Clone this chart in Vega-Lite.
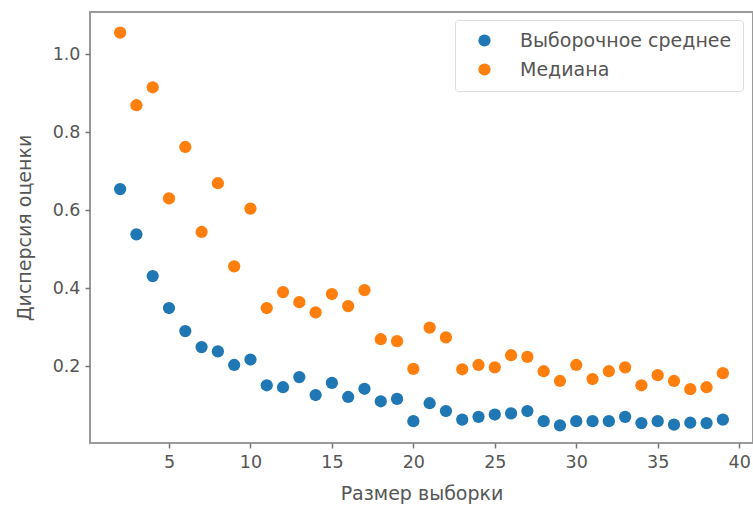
{
  "$schema": "https://vega.github.io/schema/vega-lite/v6.json",
  "autosize": {"type": "none"},
  "padding": {"left": 90, "top": 12, "right": 0, "bottom": 63},
  "width": 663,
  "height": 431,
  "background": "white",
  "config": {
    "font": "DejaVu Sans",
    "view": {"stroke": "#9a9a9a", "strokeWidth": 2},
    "axis": {
      "domain": false,
      "grid": false,
      "tickColor": "#777",
      "tickWidth": 1.5,
      "tickSize": 5,
      "labelFont": "DejaVu Sans",
      "labelFontSize": 17.5,
      "labelColor": "#555",
      "labelPadding": 5,
      "titleFont": "DejaVu Sans",
      "titleFontSize": 19,
      "titleFontWeight": "normal",
      "titleColor": "#555"
    }
  },
  "data": {
    "values": [
      {"n": 2, "s": "Выборочное среднее", "v": 0.654},
      {"n": 3, "s": "Выборочное среднее", "v": 0.538},
      {"n": 4, "s": "Выборочное среднее", "v": 0.431},
      {"n": 5, "s": "Выборочное среднее", "v": 0.349},
      {"n": 6, "s": "Выборочное среднее", "v": 0.290},
      {"n": 7, "s": "Выборочное среднее", "v": 0.249},
      {"n": 8, "s": "Выборочное среднее", "v": 0.238},
      {"n": 9, "s": "Выборочное среднее", "v": 0.203},
      {"n": 10, "s": "Выборочное среднее", "v": 0.217},
      {"n": 11, "s": "Выборочное среднее", "v": 0.151},
      {"n": 12, "s": "Выборочное среднее", "v": 0.146},
      {"n": 13, "s": "Выборочное среднее", "v": 0.172},
      {"n": 14, "s": "Выборочное среднее", "v": 0.126},
      {"n": 15, "s": "Выборочное среднее", "v": 0.157},
      {"n": 16, "s": "Выборочное среднее", "v": 0.121},
      {"n": 17, "s": "Выборочное среднее", "v": 0.142},
      {"n": 18, "s": "Выборочное среднее", "v": 0.110},
      {"n": 19, "s": "Выборочное среднее", "v": 0.116},
      {"n": 20, "s": "Выборочное среднее", "v": 0.059},
      {"n": 21, "s": "Выборочное среднее", "v": 0.105},
      {"n": 22, "s": "Выборочное среднее", "v": 0.085},
      {"n": 23, "s": "Выборочное среднее", "v": 0.063},
      {"n": 24, "s": "Выборочное среднее", "v": 0.070},
      {"n": 25, "s": "Выборочное среднее", "v": 0.076},
      {"n": 26, "s": "Выборочное среднее", "v": 0.079},
      {"n": 27, "s": "Выборочное среднее", "v": 0.085},
      {"n": 28, "s": "Выборочное среднее", "v": 0.059},
      {"n": 29, "s": "Выборочное среднее", "v": 0.048},
      {"n": 30, "s": "Выборочное среднее", "v": 0.059},
      {"n": 31, "s": "Выборочное среднее", "v": 0.059},
      {"n": 32, "s": "Выборочное среднее", "v": 0.059},
      {"n": 33, "s": "Выборочное среднее", "v": 0.070},
      {"n": 34, "s": "Выборочное среднее", "v": 0.054},
      {"n": 35, "s": "Выборочное среднее", "v": 0.059},
      {"n": 36, "s": "Выборочное среднее", "v": 0.050},
      {"n": 37, "s": "Выборочное среднее", "v": 0.055},
      {"n": 38, "s": "Выборочное среднее", "v": 0.054},
      {"n": 39, "s": "Выборочное среднее", "v": 0.063},
      {"n": 2, "s": "Медиана", "v": 1.055},
      {"n": 3, "s": "Медиана", "v": 0.869},
      {"n": 4, "s": "Медиана", "v": 0.915},
      {"n": 5, "s": "Медиана", "v": 0.630},
      {"n": 6, "s": "Медиана", "v": 0.762},
      {"n": 7, "s": "Медиана", "v": 0.544},
      {"n": 8, "s": "Медиана", "v": 0.669},
      {"n": 9, "s": "Медиана", "v": 0.456},
      {"n": 10, "s": "Медиана", "v": 0.604},
      {"n": 11, "s": "Медиана", "v": 0.349},
      {"n": 12, "s": "Медиана", "v": 0.390},
      {"n": 13, "s": "Медиана", "v": 0.364},
      {"n": 14, "s": "Медиана", "v": 0.338},
      {"n": 15, "s": "Медиана", "v": 0.385},
      {"n": 16, "s": "Медиана", "v": 0.354},
      {"n": 17, "s": "Медиана", "v": 0.395},
      {"n": 18, "s": "Медиана", "v": 0.269},
      {"n": 19, "s": "Медиана", "v": 0.264},
      {"n": 20, "s": "Медиана", "v": 0.193},
      {"n": 21, "s": "Медиана", "v": 0.299},
      {"n": 22, "s": "Медиана", "v": 0.274},
      {"n": 23, "s": "Медиана", "v": 0.192},
      {"n": 24, "s": "Медиана", "v": 0.203},
      {"n": 25, "s": "Медиана", "v": 0.197},
      {"n": 26, "s": "Медиана", "v": 0.228},
      {"n": 27, "s": "Медиана", "v": 0.224},
      {"n": 28, "s": "Медиана", "v": 0.187},
      {"n": 29, "s": "Медиана", "v": 0.162},
      {"n": 30, "s": "Медиана", "v": 0.203},
      {"n": 31, "s": "Медиана", "v": 0.167},
      {"n": 32, "s": "Медиана", "v": 0.187},
      {"n": 33, "s": "Медиана", "v": 0.197},
      {"n": 34, "s": "Медиана", "v": 0.151},
      {"n": 35, "s": "Медиана", "v": 0.177},
      {"n": 36, "s": "Медиана", "v": 0.162},
      {"n": 37, "s": "Медиана", "v": 0.141},
      {"n": 38, "s": "Медиана", "v": 0.146},
      {"n": 39, "s": "Медиана", "v": 0.182}
    ]
  },
  "mark": {"type": "point", "filled": true, "opacity": 1, "size": 150, "shape": "circle"},
  "encoding": {
    "x": {
      "field": "n", "type": "quantitative",
      "scale": {"domain": [0.15, 40.85], "nice": false, "zero": false},
      "axis": {"values": [5, 10, 15, 20, 25, 30, 35, 40], "title": "Размер выборки", "titlePadding": 14}
    },
    "y": {
      "field": "v", "type": "quantitative",
      "scale": {"domain": [0.003, 1.108], "nice": false, "zero": false},
      "axis": {"values": [0.2, 0.4, 0.6, 0.8, 1.0], "format": ".1f", "title": "Дисперсия оценки", "titlePadding": 18}
    },
    "color": {
      "field": "s", "type": "nominal",
      "scale": {"domain": ["Выборочное среднее", "Медиана"], "range": ["#1f77b4", "#ff7f0e"]},
      "legend": {
        "title": null,
        "orient": "none",
        "legendX": 365,
        "legendY": 8,
        "direction": "vertical",
        "labelFontSize": 19,
        "labelFont": "DejaVu Sans",
        "labelColor": "#555",
        "labelOffset": 26,
        "labelLimit": 400,
        "symbolSize": 150,
        "symbolType": "circle",
        "symbolOffset": 9,
        "rowPadding": 9,
        "padding": 11,
        "strokeColor": "#dddddd",
        "fillColor": "white",
        "cornerRadius": 3
      }
    }
  }
}
